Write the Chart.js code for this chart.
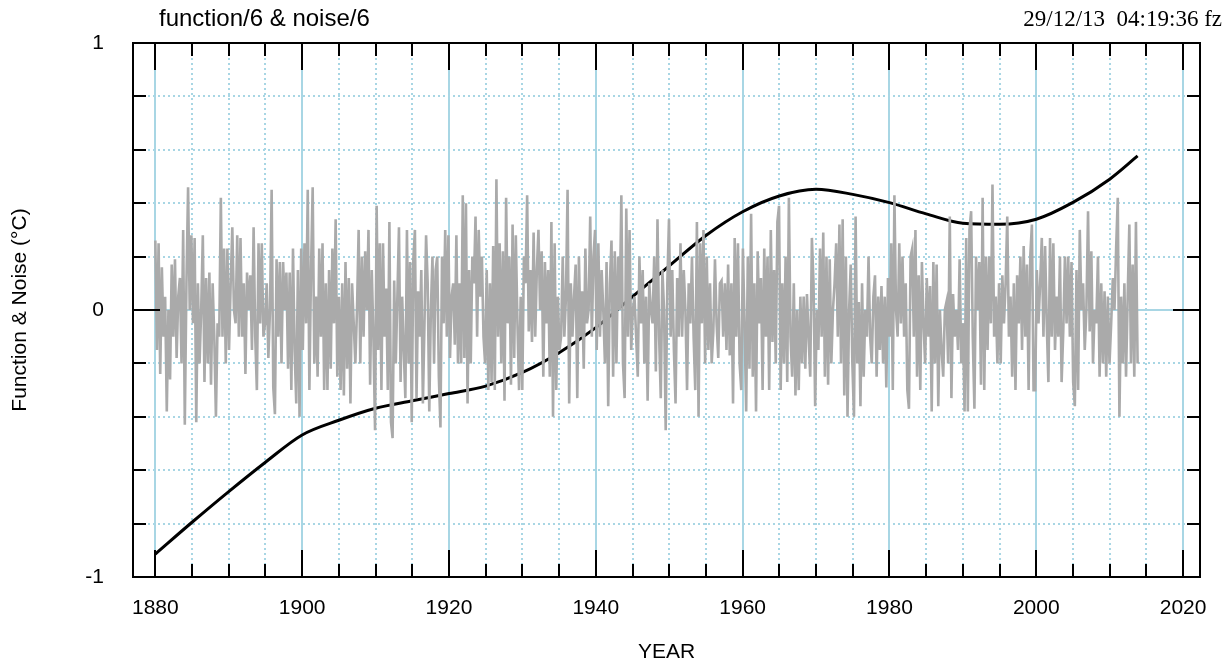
<!DOCTYPE html>
<html><head><meta charset="utf-8">
<script src="https://cdn.jsdelivr.net/npm/chart.js@4.4.0/dist/chart.umd.min.js"></script>
<style>html,body{margin:0;padding:0;background:#fff;}#wrap{width:1232px;height:668px;}</style>
</head><body><div id="wrap"><canvas id="c" width="1232" height="668"></canvas></div>
<script>
const titleText = 'function/6 & noise/6';
const stampText = '29/12/13  04:19:36 fz';
const xAxisTitle = 'YEAR';
const yAxisTitle = 'Function & Noise (°C)';
const xTickLabels = [1880, 1900, 1920, 1940, 1960, 1980, 2000, 2020];
const yTickLabels = [-1, 0, 1];

const funcYears  = [1880, 1885, 1890, 1895, 1900, 1905, 1910, 1915, 1920, 1925, 1930, 1935, 1940, 1945, 1950, 1955, 1960, 1965, 1970, 1975, 1980, 1985, 1990, 1995, 2000, 2005, 2010, 2013.8];
const funcValues = [-0.914, -0.795, -0.68, -0.57, -0.468, -0.413, -0.368, -0.34, -0.313, -0.285, -0.234, -0.16, -0.066, 0.05, 0.165, 0.279, 0.368, 0.427, 0.452, 0.433, 0.402, 0.36, 0.325, 0.321, 0.34, 0.403, 0.49, 0.577];

// noise read strip by strip (start year of each strip, last entry = end of data)
const noiseStripBounds = [1880, 1894.95, 1909.93, 1924.92, 1939.90, 1954.89, 1969.88, 1984.86, 1999.85, 2013.8];
const noise1880 = [0.26,-0.15,0.25,-0.24,0.16,-0.10,0.05,-0.38,0.00,-0.26,0.17,-0.10,0.19,-0.18,0.05,0.12,-0.20,0.30,-0.43,0.10,0.46,0.00,0.28,-0.05,0.27,-0.42,0.10,-0.20,0.00,0.28,-0.27,0.12,-0.20,0.14,-0.28,0.10,-0.10,-0.40,-0.05,-0.10,0.42,-0.10,0.23,-0.20,0.23,-0.15,0.10,0.31,0.00,-0.05,0.28,-0.10,0.27,-0.10,0.10,-0.24,0.14,0.00,0.13,-0.15,0.31,-0.10,-0.30,0.25,-0.05,0.25,-0.10];
const noise1895 = [-0.05,0.10,-0.18,0.00,0.45,-0.29,-0.39,0.19,-0.10,0.18,-0.20,0.18,0.00,0.14,-0.22,0.14,-0.30,0.23,-0.15,-0.35,0.15,-0.40,0.23,-0.15,0.25,-0.05,0.45,-0.30,0.15,0.46,-0.20,0.05,-0.25,0.23,-0.10,0.25,-0.30,0.10,-0.30,0.15,-0.22,0.23,-0.05,0.34,-0.25,0.05,-0.30,0.10,-0.32,0.18,-0.22,0.12,-0.35,0.10,-0.05,-0.20,0.00,0.30,-0.20,0.20,-0.10,0.22,0.00,0.30,-0.28,0.15,-0.10];
const noise1910 = [-0.45,0.39,-0.15,0.25,-0.30,0.25,-0.10,0.08,-0.30,0.33,-0.42,-0.48,0.11,-0.20,0.05,0.31,-0.27,0.05,-0.15,-0.33,0.30,-0.20,0.18,-0.42,0.19,0.30,-0.33,0.07,-0.10,0.15,-0.35,-0.05,0.28,0.10,-0.38,0.00,0.20,-0.20,0.15,0.20,-0.25,-0.44,0.20,-0.05,0.30,-0.10,0.28,-0.18,0.05,0.10,-0.13,0.28,-0.20,0.10,-0.20,0.43,-0.18,0.40,-0.35,0.15,-0.20,0.20,0.10,0.35,-0.10,0.30,0.05,0.20,-0.10];
const noise1925 = [-0.20,0.15,-0.30,0.10,-0.27,0.24,-0.30,0.49,-0.10,0.25,-0.20,0.22,-0.34,0.42,-0.05,0.20,-0.28,0.32,-0.18,0.28,-0.05,-0.30,0.05,-0.30,0.20,0.10,0.43,-0.08,0.15,-0.12,0.29,-0.10,0.15,0.30,0.00,0.22,-0.25,0.18,-0.05,0.15,-0.25,0.33,-0.40,0.25,-0.30,0.05,-0.15,-0.10,0.20,-0.10,0.05,0.45,-0.35,0.10,-0.10,0.05,0.17,-0.33,0.20,-0.10,0.07,-0.22,0.23,-0.05,0.00,0.35,-0.10,0.20];
const noise1940 = [0.30,-0.15,0.25,-0.10,0.15,0.00,-0.20,0.18,-0.36,0.10,0.26,-0.25,0.22,-0.20,0.20,0.00,0.43,-0.20,-0.33,0.38,-0.10,0.30,-0.15,0.00,0.05,-0.10,-0.25,0.20,-0.05,0.15,-0.20,0.05,-0.34,0.10,0.00,-0.05,0.20,-0.23,0.34,-0.10,-0.33,0.15,0.00,-0.45,0.10,0.34,-0.10,0.15,-0.15,-0.35,0.12,-0.10,0.25,-0.10,0.15,0.00,-0.30,0.10,-0.05,0.20,-0.10,-0.30,0.33,-0.40,0.25,-0.05,0.30];
const noise1955 = [-0.20,0.20,-0.15,0.10,-0.20,-0.08,0.19,-0.05,-0.18,0.10,0.11,-0.10,0.10,-0.15,0.17,-0.17,0.10,-0.35,0.27,-0.10,0.25,-0.20,-0.30,0.23,-0.05,-0.38,0.20,-0.22,0.36,-0.25,0.10,-0.38,0.22,-0.05,0.12,-0.30,0.23,-0.10,0.20,-0.30,0.30,-0.12,0.15,-0.20,0.33,0.39,-0.30,0.10,-0.20,0.20,-0.27,0.42,-0.10,-0.25,0.10,-0.32,0.00,-0.30,0.05,-0.20,0.05,-0.22,0.06,-0.10,-0.25,0.27,0.10];
const noise1970 = [-0.36,0.00,-0.15,0.23,-0.10,0.29,-0.25,0.20,-0.28,0.19,-0.20,0.00,0.10,0.25,-0.10,0.32,-0.20,0.34,-0.32,0.20,-0.40,0.00,0.17,-0.20,-0.40,0.35,-0.20,0.03,-0.36,0.10,-0.25,0.00,-0.10,0.20,-0.10,-0.20,0.05,0.13,-0.25,0.05,-0.15,0.09,-0.20,0.05,-0.29,0.12,-0.10,0.25,-0.30,0.43,0.00,-0.10,0.25,-0.05,0.20,-0.10,0.10,-0.30,-0.37,0.20,0.23,-0.10,0.30,-0.25,0.13,-0.30,0.18,-0.05];
const noise1985 = [-0.20,0.12,-0.10,0.09,-0.38,0.18,-0.20,0.17,-0.36,0.00,-0.15,-0.25,0.00,0.03,-0.20,0.35,-0.33,0.06,-0.10,0.00,-0.15,0.19,-0.20,-0.05,-0.38,0.27,-0.38,0.30,0.37,-0.10,-0.37,0.20,0.00,0.18,-0.28,0.42,-0.30,0.20,-0.15,0.20,-0.05,0.47,-0.10,0.05,-0.20,0.10,-0.20,0.13,-0.05,0.10,0.35,-0.10,0.05,-0.25,0.10,-0.30,0.13,-0.05,0.20,-0.15,0.24,-0.10,0.17,-0.30,0.20,0.32,-0.30];
const noise2000 = [-0.30,0.15,-0.05,0.10,0.27,-0.10,0.24,-0.05,-0.27,0.27,-0.10,0.25,-0.15,0.05,-0.10,0.20,-0.27,-0.08,0.20,-0.05,0.20,-0.10,0.18,-0.27,-0.36,0.15,-0.30,0.30,0.00,0.10,-0.15,0.00,0.37,-0.08,0.22,-0.20,0.00,-0.05,0.20,-0.25,0.10,-0.20,0.07,-0.25,0.05,-0.20,-0.05,0.12,0.00,0.23,0.42,-0.40,0.05,-0.20,0.10,-0.25,0.05,0.32,-0.20,0.17,-0.25,0.33,-0.20];
const noiseStrips = [noise1880, noise1895, noise1910, noise1925, noise1940, noise1955, noise1970, noise1985, noise2000];

// build library tables from the arrays
const noisePoints = [];
noiseStrips.forEach((vals, k) => {
  const a = noiseStripBounds[k], b = noiseStripBounds[k + 1];
  const last = (k === noiseStrips.length - 1);
  const n = last ? vals.length - 1 : vals.length;
  vals.forEach((v, i) => noisePoints.push({x: a + (b - a) * i / n, y: v}));
});
const funcPoints = funcYears.map((yr, i) => ({x: yr, y: funcValues[i]}));

const X_MIN = 1876.96, X_MAX = 2022.3;
const xMinorStep = 5, xMajorStep = 20, yMinorStep = 0.2;
const GRID = '#a8d6e4';
const SANS = '"Liberation Sans", Arial, Helvetica, sans-serif';
const SERIF = '"Liberation Serif", "Times New Roman", serif';

const gridPlugin = {
  id: 'gnuGrid',
  beforeDatasetsDraw(chart) {
    const {ctx, chartArea: {left, right, top, bottom}, scales: {x, y}} = chart;
    ctx.save();
    ctx.beginPath(); ctx.rect(left, top, right - left, bottom - top); ctx.clip();
    ctx.strokeStyle = GRID; ctx.lineWidth = 2; ctx.setLineDash([2, 3]);
    ctx.beginPath();
    for (let k = Math.ceil(x.min / xMinorStep); k * xMinorStep <= x.max; k++) {
      const v = k * xMinorStep;
      if (v % xMajorStep === 0) continue;
      const px = Math.round(x.getPixelForValue(v));
      ctx.moveTo(px, top); ctx.lineTo(px, bottom);
    }
    for (let k = -4; k <= 4; k++) {
      if (k === 0) continue;
      const py = Math.round(y.getPixelForValue(k * yMinorStep));
      ctx.moveTo(left, py); ctx.lineTo(right, py);
    }
    ctx.stroke();
    ctx.setLineDash([]);
    ctx.beginPath();
    xTickLabels.forEach(v => { const px = Math.round(x.getPixelForValue(v)); ctx.moveTo(px, top); ctx.lineTo(px, bottom); });
    const p0 = Math.round(y.getPixelForValue(0));
    ctx.moveTo(left, p0); ctx.lineTo(right, p0);
    ctx.stroke();
    ctx.restore();
  },
  afterDatasetsDraw(chart) {
    const {ctx, chartArea: {left, right, top, bottom}, scales: {x, y}} = chart;
    ctx.save();
    ctx.strokeStyle = '#000'; ctx.lineWidth = 2; ctx.setLineDash([]);
    ctx.beginPath();
    for (let k = Math.ceil(x.min / xMinorStep); k * xMinorStep <= x.max; k++) {
      const v = k * xMinorStep;
      const px = Math.round(x.getPixelForValue(v));
      const len = (v % xMajorStep === 0) ? 27 : 13;
      ctx.moveTo(px, top); ctx.lineTo(px, top + len);
      ctx.moveTo(px, bottom); ctx.lineTo(px, bottom - len);
    }
    for (let k = -5; k <= 5; k++) {
      const py = Math.round(y.getPixelForValue(k * yMinorStep));
      const len = (k % 5 === 0) ? 27 : 13;
      ctx.moveTo(left, py); ctx.lineTo(left + len, py);
      ctx.moveTo(right, py); ctx.lineTo(right - len, py);
    }
    ctx.stroke();
    ctx.strokeRect(left, top, right - left, bottom - top);
    ctx.restore();
  },
  afterDraw(chart) {
    const ctx = chart.ctx;
    ctx.save();
    ctx.fillStyle = '#000';
    ctx.textBaseline = 'alphabetic';
    ctx.font = '24px ' + SANS; ctx.textAlign = 'left';
    ctx.fillText(titleText, 159, 26);
    ctx.font = '23px ' + SERIF; ctx.textAlign = 'right';
    ctx.fillText(stampText, 1222, 26);
    ctx.restore();
  }
};

new Chart(document.getElementById('c'), {
  type: 'line',
  data: {
    datasets: [
      {label: 'noise', data: noisePoints, borderColor: '#aaaaaa', borderWidth: 2.6, pointRadius: 0, fill: false, tension: 0},
      {label: 'function', data: funcPoints, borderColor: '#000000', borderWidth: 3, pointRadius: 0, fill: false, cubicInterpolationMode: 'monotone'}
    ]
  },
  options: {
    responsive: false, animation: false, devicePixelRatio: 1,
    layout: {padding: {left: 0, right: 32, top: 43, bottom: 0}},
    plugins: {legend: {display: false}, tooltip: {enabled: false}, title: {display: false}},
    scales: {
      x: {
        type: 'linear', position: 'bottom', min: X_MIN, max: X_MAX,
        grid: {display: false, drawTicks: false}, border: {display: false},
        afterBuildTicks: s => { s.ticks = xTickLabels.map(v => ({value: v})); },
        afterFit: s => { s.height = 91; },
        ticks: {autoSkip: false, maxRotation: 0, padding: 19, color: '#000', font: {family: SANS, size: 21}, callback: v => String(v)},
        title: {display: true, text: xAxisTitle, color: '#000', font: {family: SANS, size: 21}, padding: {top: 0, bottom: 3}}
      },
      y: {
        type: 'linear', position: 'left', min: -1, max: 1,
        grid: {display: false, drawTicks: false}, border: {display: false},
        afterBuildTicks: s => { s.ticks = yTickLabels.map(v => ({value: v})); },
        afterFit: s => { s.width = 133; },
        ticks: {padding: 29, color: '#000', font: {family: SANS, size: 21}, callback: v => String(v)},
        title: {display: true, text: yAxisTitle, color: '#000', font: {family: SANS, size: 21}, padding: {top: 8, bottom: 0}}
      }
    }
  },
  plugins: [gridPlugin]
});
</script>
</body></html>
